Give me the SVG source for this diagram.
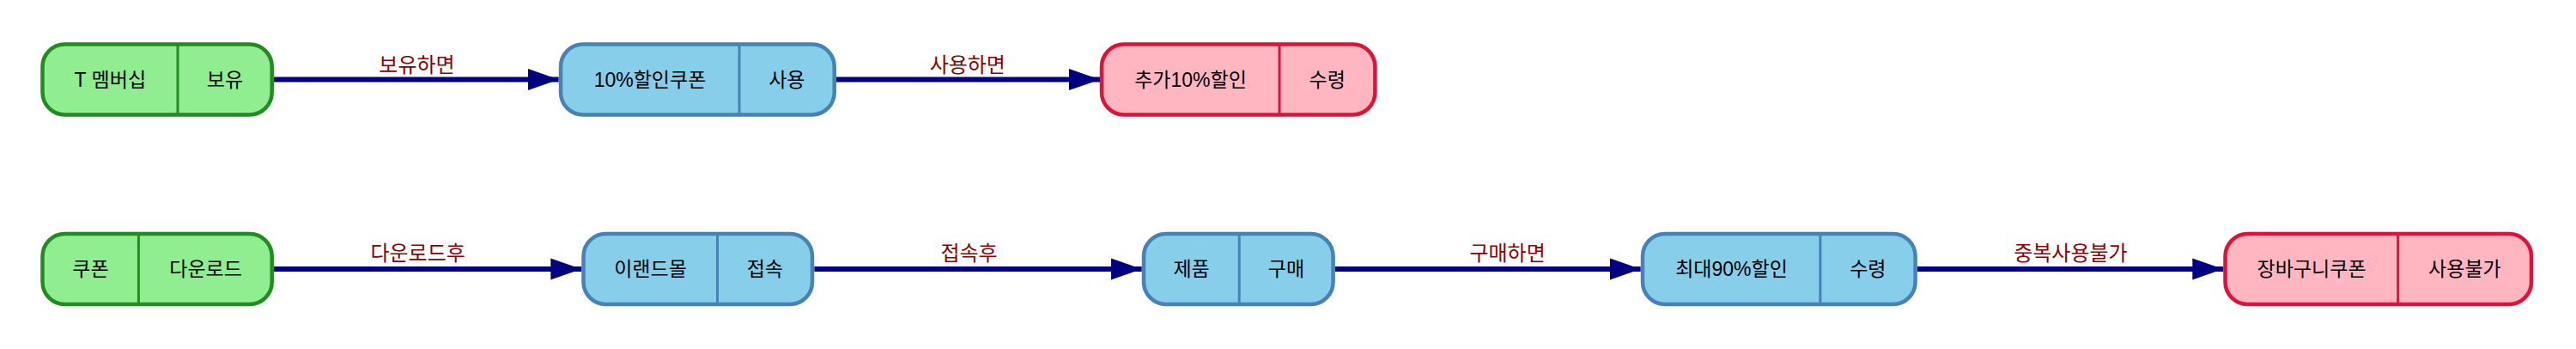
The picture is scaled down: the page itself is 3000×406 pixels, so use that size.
<svg xmlns="http://www.w3.org/2000/svg" width="3000" height="406" viewBox="0 0 3000 406">
<style>
.n rect{stroke-width:4.5}
.n line{stroke-width:3}
.g rect{fill:#90EE90;stroke:#228B22}.g line{stroke:#228B22}
.b rect{fill:#87CEEB;stroke:#4682B4}.b line{stroke:#4682B4}
.p rect{fill:#FFB6C1;stroke:#DC143C}.p line{stroke:#DC143C}
.n text{font-family:"Liberation Sans","Noto Sans CJK KR",sans-serif;font-size:23px;fill:#000;text-anchor:middle}
.e line{stroke:#000080;stroke-width:6}
.e text{font-family:"Liberation Sans","Noto Sans CJK KR",sans-serif;font-size:24px;fill:#8B0000;text-anchor:middle}
</style>
<defs>
<marker id="ah" markerUnits="userSpaceOnUse" markerWidth="36" markerHeight="26" refX="36" refY="12.5" orient="auto" viewBox="0 0 36 25">
<polygon points="0,0 36,12.5 0,25" fill="#000080"/>
</marker>
</defs>
<rect width="3000" height="406" fill="#fff"/>
<g id="connectors" class="e">
<line x1="319" y1="92.5" x2="650.7" y2="92.5" marker-end="url(#ah)"/>
<text x="485.5" y="83.5">보유하면</text>
<line x1="974" y1="92.5" x2="1281" y2="92.5" marker-end="url(#ah)"/>
<text x="1126.8" y="83.5">사용하면</text>
<line x1="319" y1="313" x2="677.3" y2="313" marker-end="url(#ah)"/>
<text x="486.6" y="303">다운로드후</text>
<line x1="948.3" y1="313" x2="1329.7" y2="313" marker-end="url(#ah)"/>
<text x="1128.5" y="303">접속후</text>
<line x1="1554.8" y1="313" x2="1910.7" y2="313" marker-end="url(#ah)"/>
<text x="1755.6" y="303">구매하면</text>
<line x1="2232.8" y1="313" x2="2589.3" y2="313" marker-end="url(#ah)"/>
<text x="2411.4" y="303">중복사용불가</text>
</g>
<g id="n1" class="n g">
<rect x="49.5" y="51.5" width="267.2" height="82" rx="26"/>
<line x1="207" y1="51.5" x2="207" y2="133.5"/>
<text x="128.3" y="100.5">T 멤버십</text>
<text x="262" y="100.5">보유</text>
</g>
<g id="n2" class="n b">
<rect x="653" y="51.5" width="318.7" height="82" rx="26"/>
<line x1="861" y1="51.5" x2="861" y2="133.5"/>
<text x="757" y="100.5">10%할인쿠폰</text>
<text x="916.3" y="100.5">사용</text>
</g>
<g id="n3" class="n p">
<rect x="1283" y="51.5" width="318.4" height="82" rx="26"/>
<line x1="1490" y1="51.5" x2="1490" y2="133.5"/>
<text x="1386.5" y="100.5">추가10%할인</text>
<text x="1545.7" y="100.5">수령</text>
</g>
<g id="nA" class="n g">
<rect x="49.5" y="272" width="267.2" height="82" rx="26"/>
<line x1="161.4" y1="272" x2="161.4" y2="354"/>
<text x="105.5" y="321">쿠폰</text>
<text x="239.6" y="321">다운로드</text>
</g>
<g id="nB" class="n b">
<rect x="679.5" y="272" width="266.5" height="82" rx="26"/>
<line x1="835.5" y1="272" x2="835.5" y2="354"/>
<text x="757.5" y="321">이랜드몰</text>
<text x="890.8" y="321">접속</text>
</g>
<g id="nC" class="n b">
<rect x="1332" y="272" width="220.6" height="82" rx="26"/>
<line x1="1443.2" y1="272" x2="1443.2" y2="354"/>
<text x="1387.6" y="321">제품</text>
<text x="1497.9" y="321">구매</text>
</g>
<g id="nD" class="n b">
<rect x="1913" y="272" width="317.6" height="82" rx="26"/>
<line x1="2119.9" y1="272" x2="2119.9" y2="354"/>
<text x="2016.5" y="321">최대90%할인</text>
<text x="2175.3" y="321">수령</text>
</g>
<g id="nE" class="n p">
<rect x="2591.5" y="272" width="356.5" height="82" rx="26"/>
<line x1="2792.7" y1="272" x2="2792.7" y2="354"/>
<text x="2692.1" y="321">장바구니쿠폰</text>
<text x="2870.4" y="321">사용불가</text>
</g>
</svg>
